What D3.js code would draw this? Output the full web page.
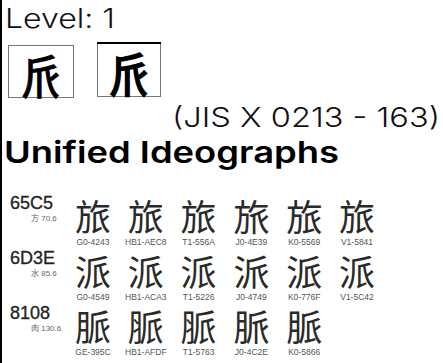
<!DOCTYPE html>
<html><head><meta charset="utf-8">
<script src="https://cdn.jsdelivr.net/npm/d3@7"></script>
<style>
html,body{margin:0;padding:0;background:#fff;}
svg{display:block;}
</style></head>
<body>
<script>
// ---- data ----
const levelLabel = "Level: 1";
const jisLabel = "(JIS X 0213 - 163)";
const sectionTitle = "Unified Ideographs";
const componentGlyphs = ["𠂢", "𠂢"];
const codes = ["65C5", "6D3E", "8108"];
const radicals = ["方 70.6", "水 85.6", "肉 130.6"];
const glyphs = ["旅", "派", "脈"];
const sources = [
  ["G0-4243", "HB1-AEC8", "T1-556A", "J0-4E39", "K0-5569", "V1-5841"],
  ["G0-4549", "HB1-ACA3", "T1-5226", "J0-4749", "K0-776F", "V1-5C42"],
  ["GE-395C", "HB1-AFDF", "T1-5763", "J0-4C2E", "K0-5866"]
];
const sourceFonts = {
  G: "Noto Sans CJK SC", H: "Noto Sans CJK TC", T: "Noto Sans CJK TC",
  J: "Noto Sans CJK JP", K: "Noto Sans CJK KR", V: "Noto Sans CJK SC"
};

const W = 443, H = 363;
const svg = d3.select("body").append("svg").attr("width", W).attr("height", H);

// left border
svg.append("line").attr("x1", 1).attr("x2", 1).attr("y1", 0).attr("y2", H)
  .attr("stroke", "#000").attr("stroke-width", 2);

const headFont = "Inter, 'DejaVu Sans', sans-serif";

svg.append("text").attr("x", 5).attr("y", 28)
  .attr("font-family", headFont).attr("font-weight", 300).attr("font-size", 27)
  .attr("textLength", 110).attr("lengthAdjust", "spacingAndGlyphs")
  .attr("fill", "#111").text(levelLabel);

// component boxes
const boxes = [{x: 8, y: 45, w: 65, h: 52}, {x: 97, y: 43, w: 63, h: 53}];
boxes.forEach((b, i) => {
  svg.append("rect").attr("x", b.x + 0.5).attr("y", b.y + 0.5).attr("width", b.w).attr("height", b.h)
    .attr("fill", "#fff").attr("stroke", "#777").attr("stroke-width", 1);
  if (i === 1) {
    svg.append("line").attr("x1", b.x).attr("x2", b.x + b.w + 1).attr("y1", b.y).attr("y2", b.y)
      .attr("stroke", "#000").attr("stroke-width", 2);
  }
  svg.append("text").attr("x", b.x + b.w / 2 + 1).attr("y", b.y + b.h / 2 + 2)
    .attr("text-anchor", "middle").attr("dominant-baseline", "central")
    .attr("font-family", i === 0 ? "'Noto Sans CJK TC', sans-serif" : "'Noto Sans CJK JP', sans-serif")
    .attr("font-size", 47).attr("fill", "#000")
    .attr("stroke", "#000").attr("stroke-width", i === 0 ? 1 : 1.6)
    .text(componentGlyphs[i]);
});

svg.append("text").attr("x", 172).attr("y", 127)
  .attr("font-family", headFont).attr("font-weight", 300).attr("font-size", 27)
  .attr("textLength", 268).attr("lengthAdjust", "spacingAndGlyphs")
  .attr("fill", "#111").text(jisLabel);

svg.append("text").attr("x", 4).attr("y", 163)
  .attr("font-family", headFont).attr("font-weight", 600).attr("font-size", 30)
  .attr("textLength", 335).attr("lengthAdjust", "spacingAndGlyphs")
  .attr("fill", "#000").text(sectionTitle);

// grid scales
const xCol = d3.scaleLinear().domain([0, 5]).range([93, 357]);
const yRow = d3.scaleLinear().domain([0, 2]).range([0, 110]);

const rows = svg.selectAll("g.row").data(codes).enter().append("g")
  .attr("class", "row")
  .attr("transform", (d, i) => `translate(0,${yRow(i)})`);

rows.append("text").attr("x", 10).attr("y", 209)
  .attr("font-family", "'Liberation Sans', Arial, sans-serif").attr("font-size", 18)
  .attr("fill", "#222").attr("stroke", "#222").attr("stroke-width", 0.3).text(d => d);

rows.append("text").attr("x", 31).attr("y", 221)
  .attr("font-family", "'Liberation Sans', 'Noto Sans CJK JP', sans-serif").attr("font-size", 8)
  .attr("fill", "#666").text((d, i) => radicals[i]);

rows.each(function (d, i) {
  const g = d3.select(this);
  const cells = g.selectAll("g.cell").data(sources[i]).enter().append("g")
    .attr("class", "cell")
    .attr("transform", (s, j) => `translate(${xCol(j)},0)`);
  cells.append("text").attr("x", 0).attr("y", 215)
    .attr("text-anchor", "middle").attr("dominant-baseline", "central")
    .attr("font-family", s => `'${sourceFonts[s[0]]}', sans-serif`)
    .attr("font-size", 36)
    .attr("fill", "#2a2a2a").text(glyphs[i]);
  cells.append("text").attr("x", 0).attr("y", 245)
    .attr("text-anchor", "middle")
    .attr("font-family", "'Liberation Sans', Arial, sans-serif").attr("font-size", 8.5)
    .attr("fill", "#555")
    .text(s => s);
});
</script>
</body></html>
